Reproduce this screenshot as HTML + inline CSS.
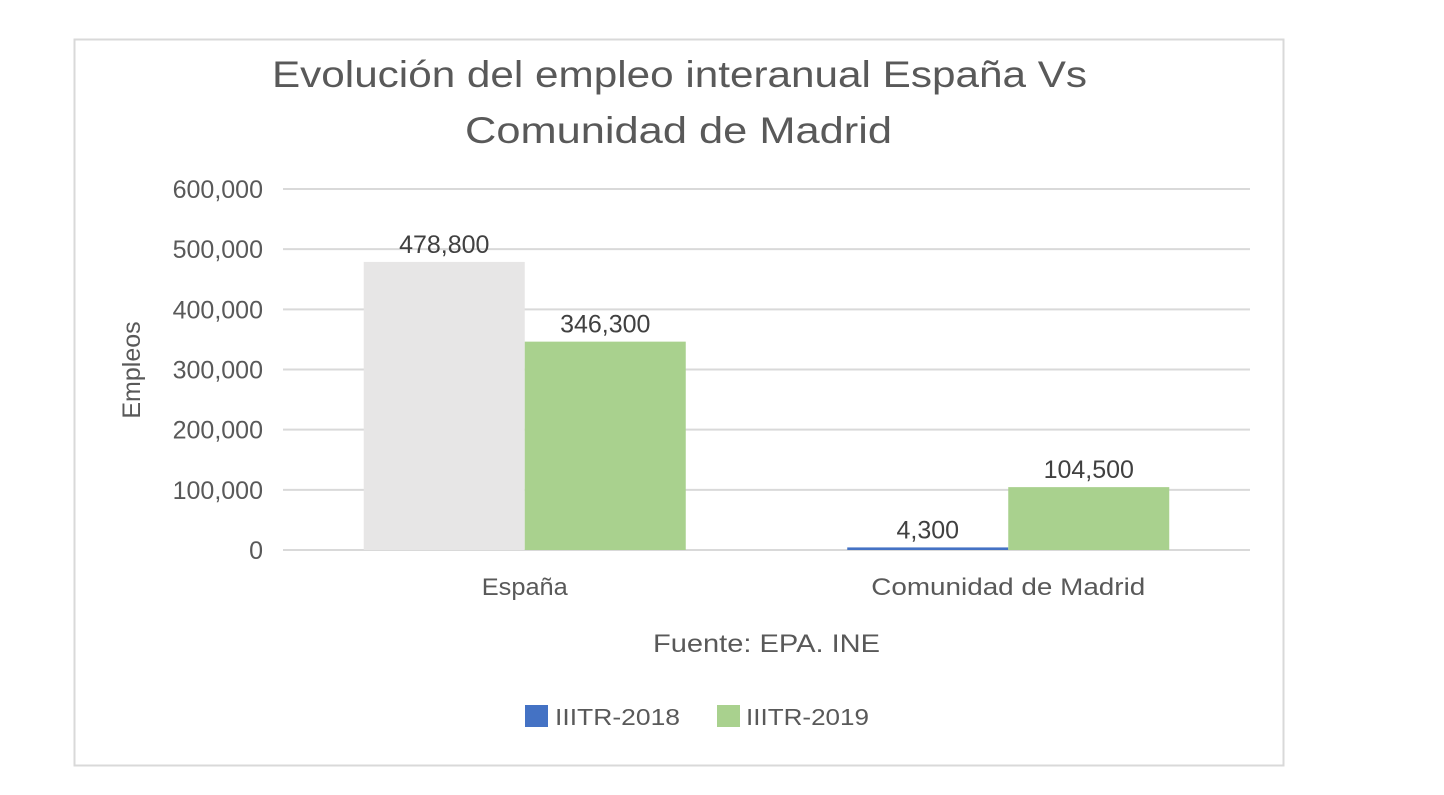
<!DOCTYPE html>
<html><head><meta charset="utf-8"><style>
body{margin:0;background:#fff;width:1444px;height:790px;overflow:hidden;font-family:"Liberation Sans",sans-serif}
svg text{font-family:"Liberation Sans",sans-serif;fill:#595959}
</style></head><body>
<svg width="1444" height="790">
<rect x="74.5" y="39.5" width="1209" height="726" fill="#fff" stroke="#d9d9d9" stroke-width="2"/>
<text x="272" y="87" font-size="37" textLength="815" lengthAdjust="spacingAndGlyphs">Evolución del empleo interanual España Vs</text>
<text x="465" y="143" font-size="37" textLength="427" lengthAdjust="spacingAndGlyphs">Comunidad de Madrid</text>
<g id="grid"></g><g id="bars"></g>
<text transform="translate(140,370) rotate(-90)" font-size="25" text-anchor="middle">Empleos</text>
<text x="653" y="652" font-size="25" textLength="227" lengthAdjust="spacingAndGlyphs">Fuente: EPA. INE</text>
<rect x="525" y="705" width="23" height="22" fill="#4472c4"/>
<text x="555" y="725" font-size="23" textLength="125" lengthAdjust="spacingAndGlyphs">IIITR-2018</text>
<rect x="717" y="705" width="23" height="22" fill="#a9d18e"/>
<text x="746" y="725" font-size="23" textLength="123" lengthAdjust="spacingAndGlyphs">IIITR-2019</text>
</svg>
<script>
const categories=["España","Comunidad de Madrid"];
const series2018=[478800,4300];
const series2019=[346300,104500];
const ticks=[0,100000,200000,300000,400000,500000,600000];
const NS="http://www.w3.org/2000/svg";
const x0=283,x1=1250,yb=550,yt=189,maxV=600000;
const y=v=>yb-(yb-yt)*v/maxV;
const cw=(x1-x0)/categories.length;
const fmt=v=>v.toLocaleString("en-US");
function mk(tag,attrs,parent,txt){const e=document.createElementNS(NS,tag);for(const k in attrs)e.setAttribute(k,attrs[k]);if(txt!==undefined)e.textContent=txt;parent.appendChild(e);return e;}
const g=document.getElementById("grid"),b=document.getElementById("bars");
ticks.forEach(t=>{
 const l=mk("line",{x1:x0,x2:x1,y1:y(t),y2:y(t),stroke:"#d9d9d9","stroke-width":2},g);
 
 
 const tx=mk("text",{x:263,y:y(t)+9,"font-size":25,"text-anchor":"end"},g,fmt(t));
 
 
});
const bw=161;
const catLen=[86,274];
categories.forEach((c,i)=>{
 const cx=x0+cw*(i+0.5);
 [[series2018,i===0?"#e7e6e6":"#4472c4",cx-bw],[series2019,"#a9d18e",cx]].forEach(([s,col,bx])=>{
  const r=mk("rect",{x:bx,y:y(s[i]),width:bw,height:yb-y(s[i]),fill:col},b);
  
  
  const lb=mk("text",{x:bx+bw/2,y:y(s[i])-9,"font-size":25,"text-anchor":"middle",style:"fill:#404040"},b,fmt(s[i]));
  
  
 });
 const ct=mk("text",{x:cx,y:595,"font-size":24,"text-anchor":"middle",textLength:catLen[i],lengthAdjust:"spacingAndGlyphs"},b,c);
 
 
});
</script>
</body></html>
